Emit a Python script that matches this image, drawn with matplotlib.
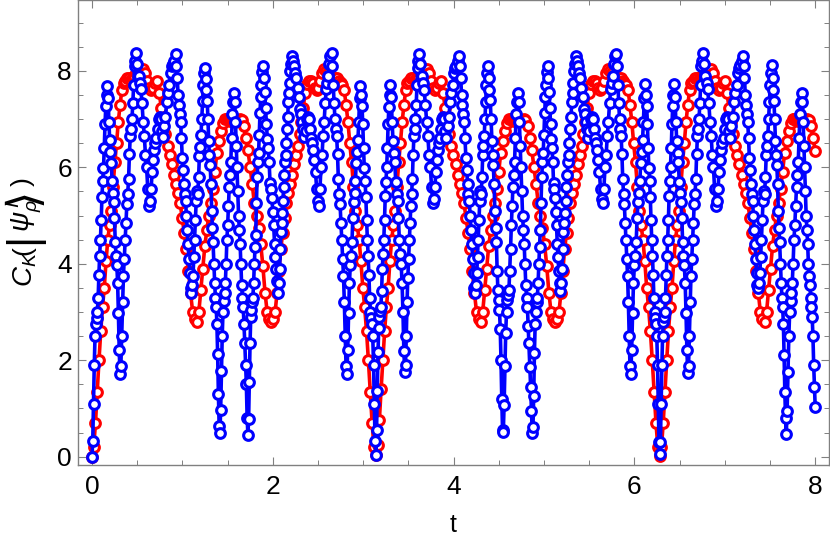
import numpy as np
import matplotlib
matplotlib.use('Agg')
import matplotlib.pyplot as plt

plt.rcParams['font.family'] = ['Liberation Sans', 'DejaVu Sans']
plt.rcParams['mathtext.fontset'] = 'custom'
plt.rcParams['mathtext.rm'] = 'Liberation Sans'
plt.rcParams['mathtext.it'] = 'Liberation Sans:italic'
plt.rcParams['mathtext.bf'] = 'Liberation Sans:bold'

blue_knots = [0, .17, .31, .49, .63, .785, .925, 1.1, 1.25, 1.415, 1.57, 1.725, 1.89, 2.06, 2.21, 2.35, 2.51, 2.65, 2.82, 2.97,
              3.14, 3.30, 3.46, 3.62, 3.77, 3.92, 4.06, 4.24, 4.38, 4.55, 4.71, 4.87, 5.04, 5.18, 5.35, 5.49, 5.65, 5.80, 5.96, 6.12,
              6.28, 6.44, 6.59, 6.76, 6.90, 7.06, 7.20, 7.37, 7.52, 7.68, 7.85, 8.0]
blue_runs = [
    [0, .32, 1.1, 1.9, 2.5, 2.76, 2.87, 3.0, 3.28, 3.76, 4.17, 4.5, 4.9, 5.39, 5.72, 5.98, 6.4, 6.9, 7.27, 7.5],
    [7.69, 7.44, 6.95, 6.56, 6.32, 6.09, 5.71, 5.47, 5.28, 4.95, 4.46, 4.17, 3.98, 3.6, 2.97, 2.22],
    [1.72, 1.87, 2.5, 3.2, 3.75, 4.1, 4.5, 4.85, 5.23, 5.45, 5.75, 6.27, 6.65, 6.8, 7.0, 7.33, 7.7, 8.1, 8.2],
    [8.38, 8.15, 7.9, 7.75, 7.62, 7.33, 6.95, 6.65, 6.25, 6.0, 5.55],
    [5.2, 5.3, 5.55, 5.9, 6.15, 6.35, 6.5, 6.6, 6.8, 7.0, 7.05, 7.0, 6.75],
    [6.62, 6.85, 7.05, 7.35, 7.55, 7.7, 7.95, 8.1, 8.15, 8.2],
    [8.35, 8.1, 7.85, 7.5, 7.3, 7.1, 6.95, 6.6, 6.2, 5.95, 5.65, 5.45, 5.3, 5.0, 4.7, 4.4, 4.1, 3.8, 3.5],
    [3.4, 3.55, 3.75, 4.15, 4.5, 4.9, 5.3, 5.5, 5.45, 5.79, 6.24, 6.43, 6.66, 7.0, 7.38, 7.7, 7.95],
    [8.07, 7.83, 7.6, 7.38, 7.0, 6.55, 6.25, 6.05, 5.65, 5.1, 4.75, 4.45, 4.0, 3.6, 3.3, 3.11, 2.75, 2.12, 1.3, .64],
    [.49, .97, 1.77, 2.5, 3.0, 3.22, 3.39, 3.6, 4.0, 4.5, 4.8, 5.2, 5.6, 5.85, 6.1, 6.6, 7.1, 7.35],
    [7.55, 7.35, 6.95, 6.45, 6.0, 5.5, 5.0, 4.7, 4.4, 4.0, 3.55, 3.3, 3.1, 2.75, 2.35, 1.9, 1.5, .8],
    [.45, .78, 1.55, 2.35, 2.9, 3.05, 3.2, 3.3, 3.6, 4.0, 4.35, 4.6, 5.27, 5.8, 6.1, 6.3, 6.68, 7.13, 7.45, 7.7, 7.97],
    [8.1, 7.85, 7.57, 7.22, 6.9, 6.58, 6.4, 6.1, 5.67, 5.55, 5.37, 5.07, 4.8, 4.4, 4.15, 3.9, 3.65],
    [3.4, 3.6, 3.9, 4.3, 4.65, 4.85, 5.05, 5.3, 5.6, 5.85, 6.1, 6.25, 6.5, 6.8, 7.05, 7.35, 7.55, 7.75, 8.0, 8.15],
    [8.3, 8.2, 8.1, 7.95, 7.85, 7.65, 7.45, 7.2, 7.1, 6.95, 6.8],
    [6.62, 6.75, 7.0, 7.05, 7.0, 6.8, 6.6, 6.5, 6.35, 6.15, 5.9, 5.55, 5.3],
    [5.2, 5.55, 6.0, 6.25, 6.65, 6.95, 7.33, 7.62, 7.75, 7.9, 8.15, 8.3],
    [8.38, 8.1, 7.7, 7.33, 7.0, 6.8, 6.65, 6.27, 5.75, 5.45, 5.23, 4.85, 4.5, 4.1, 3.75, 3.2, 2.5, 1.87],
    [1.72, 2.22, 2.97, 3.6, 3.98, 4.17, 4.46, 4.95, 5.28, 5.47, 5.71, 6.09, 6.32, 6.56, 6.95, 7.44],
    [7.69, 7.5, 7.27, 6.9, 6.4, 5.98, 5.72, 5.39, 4.9, 4.5, 4.17, 3.76, 3.28, 3.0, 2.87, 2.76, 2.5, 1.9, 1.1, .32],
    [.04, .55, 1.36, 2.16, 2.66, 2.9, 3.03, 3.1, 3.44, 3.9, 4.2, 4.5, 4.9, 5.4, 5.7, 6.0, 6.4, 6.9, 7.25, 7.5],
    [7.7, 7.45, 6.95, 6.55, 6.3, 6.1, 5.7, 5.45, 5.3, 4.95, 4.5, 4.2, 4.0, 3.6, 3.0, 2.2],
    [1.75, 1.9, 2.5, 3.2, 3.7, 4.1, 4.5, 4.85, 5.2, 5.45, 5.75, 6.25, 6.65, 6.8, 7.0, 7.3, 7.7, 8.05, 8.2],
    [8.35, 8.15, 7.9, 7.75, 7.6, 7.3, 6.95, 6.65, 6.25, 6.0, 5.6],
    [5.27, 5.35, 5.6, 5.9, 6.15, 6.35, 6.5, 6.6, 6.8, 7.0, 7.05, 7.0, 6.75],
    [6.6, 6.85, 7.05, 7.35, 7.55, 7.7, 7.95, 8.05, 8.1, 8.2],
    [8.3, 8.1, 7.85, 7.5, 7.3, 7.1, 6.95, 6.6, 6.2, 5.95, 5.65, 5.45, 5.3, 5.0, 4.7, 4.4, 4.1, 3.8, 3.5],
    [3.4, 3.55, 3.8, 4.15, 4.5, 4.9, 5.3, 5.5, 5.45, 5.8, 6.25, 6.45, 6.65, 7.0, 7.35, 7.7, 7.95],
    [8.1, 7.85, 7.6, 7.4, 7.0, 6.55, 6.25, 6.05, 5.65, 5.1, 4.75, 4.45, 3.85, 3.45, 3.25, 3.05, 2.65, 2.0, 1.2, .55],
    [.52, 1.07, 1.87, 2.57, 3.0, 3.25, 3.35, 3.45, 3.85, 4.3, 4.8, 5.2, 5.6, 5.85, 6.1, 6.6, 7.1, 7.35],
    [7.55, 7.35, 6.95, 6.45, 6.0, 5.5, 5.0, 4.7, 4.4, 4.0, 3.55, 3.3, 3.1, 2.7, 2.35, 1.85, 1.45, .95],
    [.5, .62, 1.25, 2.15, 2.75, 3.0, 3.2, 3.3, 3.6, 4.0, 4.35, 4.7, 5.27, 5.8, 6.1, 6.3, 6.68, 7.13, 7.45, 7.7, 7.97],
    [8.1, 7.85, 7.57, 7.22, 6.9, 6.58, 6.4, 6.1, 5.67, 5.55, 5.37, 5.07, 4.8, 4.4, 4.15, 3.85, 3.6],
    [3.43, 3.6, 3.9, 4.3, 4.65, 4.85, 5.05, 5.3, 5.6, 5.85, 6.1, 6.25, 6.5, 6.8, 7.05, 7.35, 7.55, 7.75, 8.0, 8.15],
    [8.3, 8.2, 8.1, 7.95, 7.85, 7.65, 7.45, 7.2, 7.1, 6.95, 6.8],
    [6.6, 6.75, 7.0, 7.05, 7.0, 6.8, 6.6, 6.5, 6.35, 6.15, 5.9, 5.55, 5.35],
    [5.25, 5.55, 6.0, 6.25, 6.65, 6.95, 7.33, 7.62, 7.75, 7.9, 8.15, 8.3],
    [8.36, 8.1, 7.7, 7.33, 7.0, 6.8, 6.65, 6.27, 5.75, 5.45, 5.23, 4.85, 4.5, 4.1, 3.75, 3.2, 2.5, 1.87],
    [1.72, 2.22, 2.97, 3.6, 3.98, 4.17, 4.46, 4.95, 5.28, 5.47, 5.71, 6.09, 6.32, 6.56, 6.95, 7.44],
    [7.72, 7.5, 7.27, 6.9, 6.4, 5.98, 5.72, 5.39, 4.9, 4.5, 4.17, 3.76, 3.28, 3.0, 2.87, 2.76, 2.5, 1.9, 1.1, .3],
    [.05, .3, 1.1, 1.9, 2.5, 2.8, 2.9, 3.0, 3.3, 3.76, 4.17, 4.5, 4.9, 5.4, 5.72, 6.0, 6.4, 6.9, 7.27, 7.5],
    [7.72, 7.45, 6.95, 6.55, 6.3, 6.1, 5.7, 5.47, 5.28, 4.95, 4.46, 4.17, 3.98, 3.6, 2.97, 2.22],
    [1.74, 1.87, 2.5, 3.2, 3.75, 4.1, 4.5, 4.85, 5.23, 5.45, 5.75, 6.27, 6.65, 6.8, 7.0, 7.33, 7.7, 8.1, 8.2],
    [8.38, 8.15, 7.9, 7.75, 7.62, 7.33, 6.95, 6.65, 6.25, 6.0, 5.55],
    [5.2, 5.3, 5.55, 5.9, 6.15, 6.35, 6.5, 6.6, 6.8, 7.0, 7.05, 7.0, 6.75],
    [6.6, 6.85, 7.05, 7.35, 7.55, 7.7, 7.95, 8.05, 8.12, 8.2],
    [8.31, 8.1, 7.85, 7.5, 7.3, 7.1, 6.95, 6.6, 6.2, 5.95, 5.65, 5.45, 5.3, 5.0, 4.7, 4.4, 4.1, 3.8, 3.55],
    [3.5, 3.6, 3.8, 4.15, 4.5, 4.9, 5.3, 5.5, 5.45, 5.8, 6.25, 6.45, 6.65, 7.0, 7.35, 7.7, 7.95],
    [8.12, 7.85, 7.6, 7.38, 7.0, 6.55, 6.25, 6.05, 5.65, 5.1, 4.75, 4.45, 4.0, 3.6, 3.3, 3.11, 2.75, 2.1, 1.35, .8],
    [.47, .95, 1.75, 2.5, 3.0, 3.22, 3.39, 3.6, 4.0, 4.5, 4.8, 5.2, 5.6, 5.85, 6.1, 6.6, 7.1, 7.35],
    [7.55, 7.35, 6.95, 6.45, 6.0, 5.5, 5.0, 4.7, 4.4, 4.0, 3.75, 3.55, 3.3, 3.1, 2.9, 2.5, 1.9, 1.45],
]
blue_last = 1.03

# Red curve, same idea with its own turning points
red_knots = [0, .35, .57, .72, 1.16, 1.47, 1.655, 1.985, 2.42, 2.57, 2.79, 3.14,
             3.49, 3.71, 3.86, 4.30, 4.61, 4.795, 5.125, 5.56, 5.71, 5.93, 6.28,
             6.63, 6.85, 7.00, 7.44, 7.75, 7.935, 8.0]
red_runs = [
    [0, .2, .7, 1.35, 2.0, 2.6, 3.1, 3.5, 4.05, 4.5, 4.8, 5.1, 5.6, 6.1, 6.5, 6.95, 7.3, 7.6],
    [7.75, 7.8, 7.85, 7.85, 7.82, 7.85, 7.9, 7.95, 8.0, 8.03, 8.0],
    [8.03, 7.95, 7.8, 7.65, 7.6, 7.65, 7.75],
    [7.8, 7.55, 7.24, 6.93, 6.7, 6.45, 6.25, 6.06, 5.85, 5.65, 5.47, 5.26, 4.95, 4.64, 4.3, 3.85, 3.4, 3.0, 2.85],
    [2.8, 3.0, 3.45, 3.9, 4.37, 4.7, 5.0, 5.25, 5.55, 5.9, 6.3, 6.55, 6.75, 6.92],
    [7.0, 7.0, 6.98, 6.97, 6.97, 6.98, 6.98, 6.98, 7.0],
    [6.98, 6.85, 6.6, 6.35, 6.0, 5.65, 5.25, 5.0, 4.75, 4.4, 3.95, 3.4, 3.0, 2.85],
    [2.8, 2.85, 3.0, 3.4, 3.85, 4.3, 4.64, 4.95, 5.26, 5.47, 5.65, 5.85, 6.06, 6.25, 6.45, 6.7, 6.93, 7.24, 7.55, 7.72, 7.8],
    [7.8, 7.75, 7.65, 7.6, 7.65, 7.8, 7.95],
    [8.03, 8.0, 7.95, 7.9, 7.85, 7.82, 7.85, 7.85, 7.8, 7.75, 7.7],
    [7.6, 7.3, 6.95, 6.5, 6.1, 5.6, 5.1, 4.8, 4.5, 4.05, 3.5, 3.1, 2.6, 2.0, 1.35, .7, .2],
    [.03, .25, .75, 1.4, 2.0, 2.6, 3.1, 3.5, 4.05, 4.5, 4.8, 5.1, 5.6, 6.1, 6.5, 6.95, 7.3, 7.6],
    [7.75, 7.8, 7.85, 7.85, 7.82, 7.85, 7.9, 7.95, 8.0, 8.03, 8.0],
    [8.03, 7.95, 7.8, 7.65, 7.6, 7.65, 7.75],
    [7.8, 7.55, 7.24, 6.93, 6.7, 6.45, 6.25, 6.06, 5.85, 5.65, 5.47, 5.26, 4.95, 4.64, 4.3, 3.85, 3.4, 3.0, 2.85],
    [2.8, 3.0, 3.45, 3.9, 4.37, 4.7, 5.0, 5.25, 5.55, 5.9, 6.3, 6.55, 6.75, 6.92],
    [7.0, 7.0, 6.98, 6.97, 6.97, 6.98, 6.98, 6.98, 7.0],
    [6.98, 6.85, 6.6, 6.35, 6.0, 5.65, 5.25, 5.0, 4.75, 4.4, 3.95, 3.4, 3.0, 2.85],
    [2.8, 2.85, 3.0, 3.4, 3.85, 4.3, 4.64, 4.95, 5.26, 5.47, 5.65, 5.85, 6.06, 6.25, 6.45, 6.7, 6.93, 7.24, 7.55, 7.72, 7.8],
    [7.8, 7.75, 7.65, 7.6, 7.65, 7.8, 7.95],
    [8.03, 8.0, 7.95, 7.9, 7.85, 7.82, 7.85, 7.85, 7.8, 7.75, 7.7],
    [7.6, 7.3, 6.95, 6.5, 6.1, 5.6, 5.1, 4.8, 4.5, 4.05, 3.5, 3.1, 2.6, 2.0, 1.35, .7, .2],
    [.02, .2, .7, 1.35, 2.0, 2.6, 3.1, 3.5, 4.05, 4.5, 4.8, 5.1, 5.6, 6.1, 6.5, 6.95, 7.3, 7.6],
    [7.75, 7.8, 7.85, 7.85, 7.82, 7.85, 7.9, 7.95, 8.0, 8.03, 8.0],
    [8.03, 7.95, 7.8, 7.65, 7.6, 7.65, 7.75],
    [7.8, 7.55, 7.24, 6.93, 6.7, 6.45, 6.25, 6.06, 5.85, 5.65, 5.47, 5.26, 4.95, 4.64, 4.3, 3.85, 3.4, 3.0, 2.85],
    [2.8, 3.0, 3.45, 3.9, 4.37, 4.7, 5.0, 5.25, 5.55, 5.9, 6.3, 6.55, 6.75, 6.92],
    [7.0, 7.0, 6.98, 6.97, 6.97, 6.98, 6.98, 6.98, 7.0],
    [6.98, 6.85, 6.6],
]
red_last = 6.34


# Put each run on its time span between two turning points
def join_runs(knots, runs, last):
    t, c = [], []
    for i, run in enumerate(runs):
        t.extend(np.linspace(knots[i], knots[i + 1], len(run), endpoint=False))
        c.extend(run)
    t.append(knots[-1])
    c.append(last)
    return t, c


t_blue, c_blue = join_runs(blue_knots, blue_runs, blue_last)
t_red, c_red = join_runs(red_knots, red_runs, red_last)

fig = plt.figure(figsize=(8.3, 5.4), dpi=100)
ax = fig.add_axes([77.5 / 830, (540 - 465.3) / 540, (829.3 - 77.5) / 830, 465.3 / 540])

ax.plot(t_red, c_red, '-o', color='#ff0000', lw=2.6, ms=7, mew=2.2, mfc='white', mec='#ff0000')
ax.plot(t_blue, c_blue, '-o', color='#0000ff', lw=2.6, ms=7, mew=2.2, mfc='white', mec='#0000ff')

ax.set_xlim(-0.16, 8.156)
ax.set_ylim(-0.18, 9.47)
ax.set_xticks([0, 2, 4, 6, 8])
ax.set_yticks([0, 2, 4, 6, 8])
ax.set_xticks(np.arange(0, 8.5, 0.5), minor=True)
ax.set_yticks(np.arange(0, 9.5, 0.5), minor=True)
gray = '#808080'
ax.tick_params(which='major', direction='in', length=6, width=0.8, color=gray, top=True, right=True,
               labelsize=19, labelcolor='black', pad=7)
ax.tick_params(which='minor', direction='in', length=3.5, width=0.7, color=gray, top=True, right=True)
ax.tick_params(axis='y', which='major', pad=4)
for s in ax.spines.values():
    s.set_color(gray)
    s.set_linewidth(1.0)

fig.text(453 / 830, 1 - 525 / 540, 't', ha='center', va='center', fontsize=18)


# y label pieces, the tall bar and bracket are bigger than the rest
def label_part(s, x, y, size):
    fig.text(x / 830, 1 - y / 540, s, rotation=90, ha='center', va='center',
             fontsize=size, rotation_mode='anchor')


label_part(r'$C_K$', 25, 269, 20)
label_part('(', 23, 251, 19)
label_part('|', 23.5, 238, 31)
label_part(r'$\psi_\rho^{\,I}$', 24, 216, 20)
label_part('\u27e9', 24, 196, 32)
label_part(')', 23, 182, 19)

fig.savefig('out.png', dpi=100)
